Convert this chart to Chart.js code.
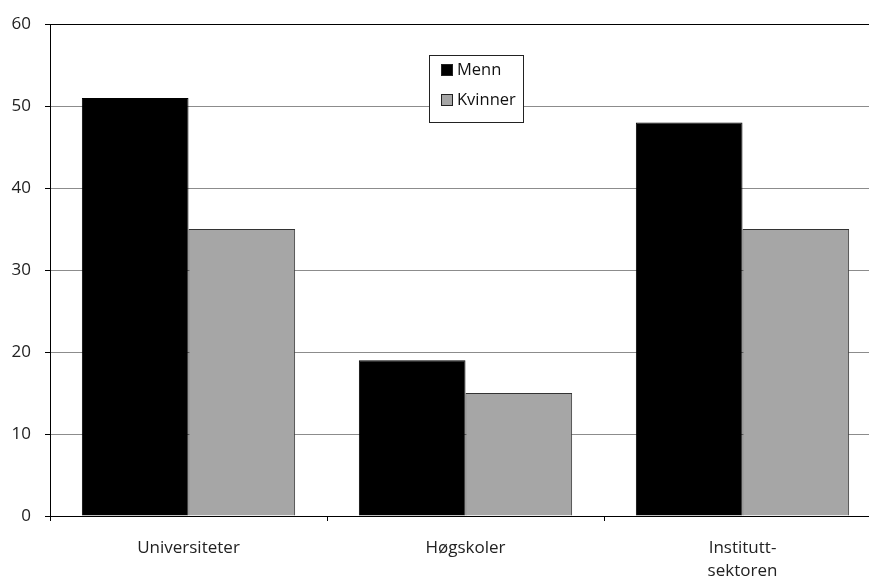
<!DOCTYPE html>
<html>
<head>
<meta charset="utf-8">
<script src="https://cdn.jsdelivr.net/npm/chart.js@4"></script>
<style>
  html, body { margin: 0; padding: 0; background: #fff; overflow: hidden; }
  #wrap { position: absolute; left: 0; top: 0; width: 869px; height: 579px; overflow: hidden; }
</style>
</head>
<body>
<div id="wrap"><canvas id="myChart" width="883" height="579"></canvas></div>
<script>
const categories = ['Universiteter', 'Høgskoler', ['Institutt-', 'sektoren']];
const menn = [51, 19, 48];
const kvinner = [35, 15, 35];
const seriesNames = ['Menn', 'Kvinner'];
const yTicks = [0, 10, 20, 30, 40, 50, 60];

const FONT = "'Open Sans', sans-serif";

// legend box drawn inside the plot, like the original
const boxLegend = {
    id: 'boxLegend',
    afterDraw(chart) {
        const c = chart.ctx;
        const x = 429, y = 55, w = 94, h = 67;
        c.save();
        c.fillStyle = '#fff';
        c.fillRect(x, y, w, h);
        c.strokeStyle = '#222';
        c.lineWidth = 1;
        c.strokeRect(x + 0.5, y + 0.5, w, h);
        c.font = '16.5px ' + FONT;
        c.textBaseline = 'middle';
        chart.data.datasets.forEach(function (ds, i) {
            const cy = 70 + i * 30;
            c.fillStyle = ds.backgroundColor;
            c.fillRect(441, cy - 6, 12, 12);
            c.strokeStyle = '#222';
            c.strokeRect(441.5, cy - 5.5, 11, 11);
            c.fillStyle = '#111';
            c.fillText(ds.label, 457, cy);
        });
        c.restore();
    }
};

const ctx = document.getElementById('myChart').getContext('2d');
const myChart = new Chart(ctx, {
    type: 'bar',
    data: {
        labels: categories,
        datasets: [{
            label: seriesNames[0],
            data: menn,
            backgroundColor: '#000000',
            borderColor: '#000000',
            borderWidth: 1
        }, {
            label: seriesNames[1],
            data: kvinner,
            backgroundColor: '#a6a6a6',
            borderColor: '#333333',
            borderWidth: 1
        }]
    },
    options: {
        responsive: false,
        animation: false,
        layout: { padding: { top: 24, right: 2, left: 0, bottom: 0 } },
        plugins: {
            legend: { display: false },
            tooltip: { enabled: false }
        },
        datasets: {
            bar: { categoryPercentage: 0.77, barPercentage: 1.0 }
        },
        scales: {
            x: {
                afterFit(scale) { scale.height = 63; },
                grid: {
                    drawOnChartArea: false,
                    drawTicks: true,
                    tickLength: 5,
                    tickColor: '#000'
                },
                border: { color: '#000', width: 1 },
                ticks: {
                    color: '#222',
                    padding: 16,
                    maxRotation: 0,
                    font: { family: FONT, size: 17, lineHeight: 1.35 }
                }
            },
            y: {
                min: 0,
                max: 60,
                afterFit(scale) { scale.width = 50; },
                afterBuildTicks(scale) { scale.ticks = yTicks.map(v => ({ value: v })); },
                grid: {
                    color: c => c.tick && c.tick.value === 60 ? '#000' : '#8c8c8c',
                    tickLength: 5,
                    tickColor: '#000'
                },
                border: { color: '#000', width: 1 },
                ticks: {
                    color: '#222',
                    padding: 14,
                    font: { family: FONT, size: 17 }
                }
            }
        }
    },
    plugins: [boxLegend]
});
</script>
</body>
</html>
